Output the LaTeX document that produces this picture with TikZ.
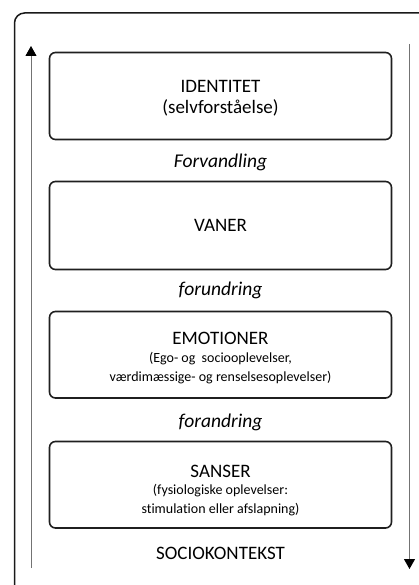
\documentclass[tikz,border=0pt]{standalone}
\usepackage{fontspec}
\setmainfont{Carlito}[Ligatures=NoCommon]
\usetikzlibrary{arrows.meta}
\tikzset{
  layerbox/.style={draw=black!88, line width=1.6pt, rounded corners=6pt},
  flowarrow/.style={draw=black!55, line width=0.9pt, -{Triangle[length=10pt,width=11pt,fill=black,color=black]}},
  title/.style={font=\fontsize{19}{22}\selectfont, inner sep=0pt},
  sub/.style={font=\fontsize{14}{19}\selectfont, inner sep=0pt, align=center},
  subbig/.style={font=\fontsize{19}{22}\selectfont, inner sep=0pt, align=center},
  trans/.style={font=\fontsize{19.5}{22}\selectfont\itshape, inner sep=0pt},
}
\begin{document}
\begin{tikzpicture}[x=1pt,y=-1pt]
\useasboundingbox (0,0) rectangle (419,585);
\begin{scope}
\clip (0,0) rectangle (419,585);
\draw[line width=1.5pt, black!90, rounded corners=10pt] (14.5,13) rectangle (430,595);
\end{scope}
% boxes
\draw[layerbox] (49.5,52.5) rectangle (391.5,139.5);
\draw[layerbox] (49.5,181.5) rectangle (391.5,269.5);
\draw[layerbox] (49.5,311.5) rectangle (391.5,398);
\draw[layerbox] (49.5,441.5) rectangle (391.5,528);
% texts
\node[title] (id) at (220.5,86) {IDENTITET};
\node[subbig] (ids) at (220.5,108) {(selvforståelse)};
\node[trans] (t1) at (220.5,162) {Forvandling};
\node[title] (va) at (220.5,225) {VANER};
\node[trans] (t2) at (220.5,290) {forundring};
\node[title] (em) at (220.5,338) {EMOTIONER};
\node[sub] (ems) at (220.5,368) {(Ego- og\ \ sociooplevelser,\\værdimæssige- og renselsesoplevelser)};
\node[trans] (t3) at (220.5,422) {forandring};
\node[title] (sa) at (220.5,471) {SANSER};
\node[sub] (sas) at (220.5,500) {(fysiologiske oplevelser:\\stimulation eller afslapning)};
\node[title] (sk) at (220.5,553) {SOCIOKONTEKST};
% arrows
\coordinate (lb) at (31,568);
\coordinate (lt) at (31,46);
\coordinate (rt) at (409.5,44);
\coordinate (rb) at (409.5,569);
\draw[flowarrow] (lb) -- (lt);
\draw[flowarrow] (rt) -- (rb);
\end{tikzpicture}
\end{document}
